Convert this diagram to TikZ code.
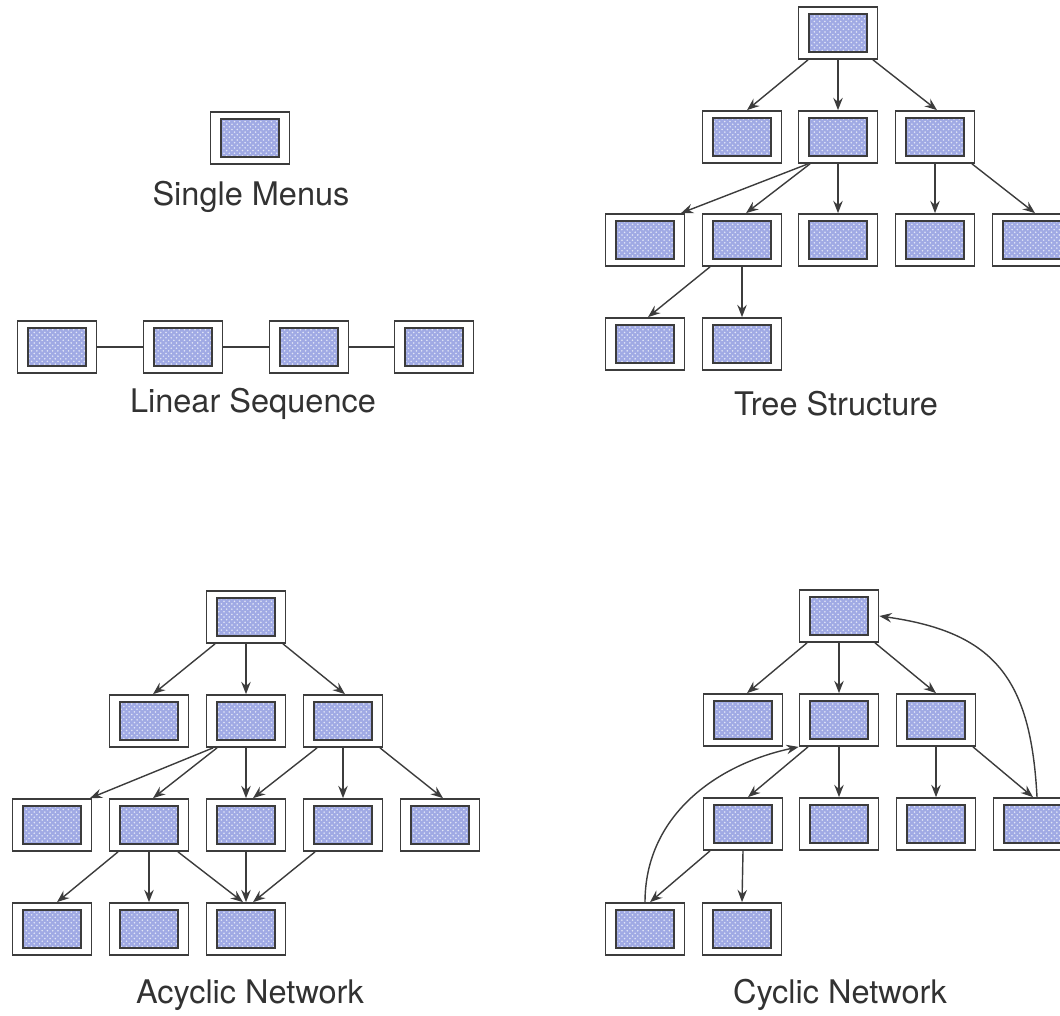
\documentclass[tikz,border=0pt]{standalone}
\usepackage{fontspec}
\setmainfont{TeX Gyre Heros}
\usepackage{xcolor}
\usepackage{tikz}
\usetikzlibrary{arrows.meta, calc, patterns}

\definecolor{menublue}{RGB}{160,170,228}
\definecolor{linegray}{RGB}{60,60,60}
\definecolor{textgray}{RGB}{50,50,50}

\tikzset{
    menu/.style={draw=linegray, line width=1pt, fill=white, inner sep=0pt,
        minimum width=1.58cm, minimum height=1.04cm,
        path picture={
            \coordinate (pSW) at ([shift={(0.21cm,0.14cm)}]path picture bounding box.south west);
            \coordinate (pNE) at ([shift={(-0.21cm,-0.14cm)}]path picture bounding box.north east);
            \fill[menublue] (pSW) rectangle (pNE);
            \fill[pattern=crosshatch dots, pattern color=white!70!menublue] (pSW) rectangle (pNE);
            \draw[linegray, line width=1.1pt] (pSW) rectangle (pNE);
        }},
    arr/.style={draw=linegray, line width=0.8pt, -{Stealth[length=7pt,width=5.4pt,inset=2.4pt]}},
    plain/.style={draw=linegray, line width=0.8pt},
    lbl/.style={anchor=base, text=textgray, font=\fontsize{18.5}{20}\selectfont}
}

\begin{document}
\begin{tikzpicture}[x=0.02cm, y=0.02cm]
    \useasboundingbox (0,0) rectangle (1060,-1015);

    % single menus
    \node[menu] (single) at (250,-138) {};
    \node[lbl] (singleLbl) at (251,-205) {Single Menus};

    % linear sequence
    \node[menu] (lin1) at (57,-347) {};
    \node[menu] (lin2) at (183,-347) {};
    \node[menu] (lin3) at (309,-347) {};
    \node[menu] (lin4) at (434,-347) {};
    \draw[plain] (lin1.east) -- (lin2.west);
    \draw[plain] (lin2.east) -- (lin3.west);
    \draw[plain] (lin3.east) -- (lin4.west);
    \node[lbl] (linLbl) at (253,-412) {Linear Sequence};

    % tree structure
    \node[menu] (t0) at (838,-33) {};
    \node[menu] (t11) at (742,-137) {};
    \node[menu] (t12) at (838,-137) {};
    \node[menu] (t13) at (935,-137) {};
    \node[menu] (t21) at (645,-240) {};
    \node[menu] (t22) at (742,-240) {};
    \node[menu] (t23) at (838,-240) {};
    \node[menu] (t24) at (935,-240) {};
    \node[menu] (t25) at (1032,-240) {};
    \node[menu] (t31) at (645,-344) {};
    \node[menu] (t32) at (742,-344) {};
    \draw[arr] ($(t0.south)+(-30,0)$) -- ($(t11.north)+(5,0)$);
    \draw[arr] (t0.south) -- (t12.north);
    \draw[arr] ($(t0.south)+(35,0)$) -- ($(t13.north)+(2,0)$);
    \draw[arr] ($(t12.south)+(-30,0)$) -- ($(t21.north)+(36,0)$);
    \draw[arr] ($(t12.south)+(-28,0)$) -- ($(t22.north)+(4,0)$);
    \draw[arr] (t12.south) -- (t23.north);
    \draw[arr] (t13.south) -- (t24.north);
    \draw[arr] ($(t13.south)+(37,0)$) -- ($(t25.north)+(3,0)$);
    \draw[arr] ($(t22.south)+(-32,0)$) -- ($(t31.north)+(3,0)$);
    \draw[arr] (t22.south) -- (t32.north);
    \node[lbl] (treeLbl) at (836,-415) {Tree Structure};

    % acyclic network
    \node[menu] (a0) at (246,-617) {};
    \node[menu] (a11) at (149,-721) {};
    \node[menu] (a12) at (246,-721) {};
    \node[menu] (a13) at (343,-721) {};
    \node[menu] (a21) at (52,-825) {};
    \node[menu] (a22) at (149,-825) {};
    \node[menu] (a23) at (246,-825) {};
    \node[menu] (a24) at (343,-825) {};
    \node[menu] (a25) at (440,-825) {};
    \node[menu] (a31) at (52,-929) {};
    \node[menu] (a32) at (149,-929) {};
    \node[menu] (a33) at (246,-929) {};
    \draw[arr] ($(a0.south)+(-31,0)$) -- ($(a11.north)+(4,0)$);
    \draw[arr] (a0.south) -- (a12.north);
    \draw[arr] ($(a0.south)+(37,0)$) -- ($(a13.north)+(2,0)$);
    \draw[arr] ($(a12.south)+(-33,0)$) -- ($(a21.north)+(38,0)$);
    \draw[arr] ($(a12.south)+(-29,0)$) -- ($(a22.north)+(4,0)$);
    \draw[arr] (a12.south) -- (a23.north);
    \draw[arr] ($(a13.south)+(-26,0)$) -- ($(a23.north)+(7,0)$);
    \draw[arr] (a13.south) -- (a24.north);
    \draw[arr] ($(a13.south)+(37,0)$) -- ($(a25.north)+(3,0)$);
    \draw[arr] ($(a22.south)+(-31,0)$) -- ($(a31.north)+(5,0)$);
    \draw[arr] (a22.south) -- (a32.north);
    \draw[arr] ($(a22.south)+(29,0)$) -- ($(a33.north)+(-3,0)$);
    \draw[arr] (a23.south) -- (a33.north);
    \draw[arr] ($(a24.south)+(-28,0)$) -- ($(a33.north)+(7,0)$);
    \node[lbl] (acycLbl) at (250,-1003) {Acyclic Network};

    % cyclic network
    \node[menu] (c0) at (839,-616) {};
    \node[menu] (c11) at (743,-720) {};
    \node[menu] (c12) at (839,-720) {};
    \node[menu] (c13) at (936,-720) {};
    \node[menu] (c21) at (743,-824) {};
    \node[menu] (c22) at (839,-824) {};
    \node[menu] (c23) at (936,-824) {};
    \node[menu] (c24) at (1033,-824) {};
    \node[menu] (c31) at (645,-929) {};
    \node[menu] (c32) at (742,-929) {};
    \draw[arr] ($(c0.south)+(-32,0)$) -- ($(c11.north)+(4,0)$);
    \draw[arr] (c0.south) -- (c12.north);
    \draw[arr] ($(c0.south)+(36,0)$) -- (c13.north);
    \draw[arr] ($(c12.south)+(-31,0)$) -- ($(c21.north)+(5,0)$);
    \draw[arr] (c12.south) -- (c22.north);
    \draw[arr] (c13.south) -- (c23.north);
    \draw[arr] ($(c13.south)+(37,0)$) -- (c24.north);
    \draw[arr] ($(c21.south)+(-33,0)$) -- ($(c31.north)+(5,0)$);
    \draw[arr] (c21.south) -- (c32.north);
    \draw[arr] ($(c24.north)+(4,0)$) to[out=93, in=-8, looseness=1.25] (c0.east);
    \draw[arr] (c31.north) to[out=90, in=192] (c12.south west);
    \node[lbl] (cycLbl) at (840,-1003) {Cyclic Network};
\end{tikzpicture}
\end{document}
